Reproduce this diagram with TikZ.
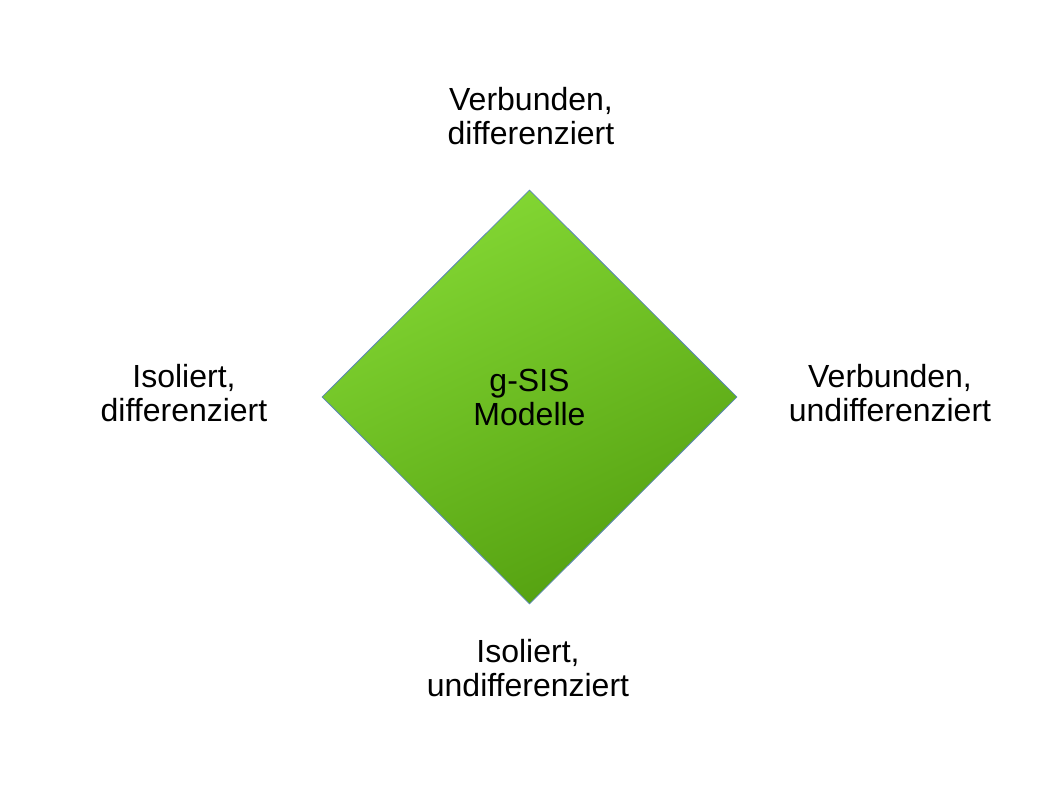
\documentclass[tikz,border=0pt]{standalone}
\usepackage{fontspec}
\setmainfont{Liberation Sans}
\usetikzlibrary{shapes.geometric}
\definecolor{glight}{HTML}{84D834}
\definecolor{gdark}{HTML}{54A010}
\definecolor{gborder}{HTML}{5B86B8}
\tikzset{
  lbl/.style={align=center, font=\fontsize{32}{34}\selectfont, inner sep=0pt},
  core/.style={diamond, aspect=1, minimum width=415pt, minimum height=414pt, inner sep=0pt,
    draw=gborder, line width=0.8pt, top color=glight, bottom color=gdark, shading angle=25,
    align=center, font=\fontsize{32}{34}\selectfont}
}
\begin{document}
\begin{tikzpicture}[x=1pt,y=-1pt]
\useasboundingbox (0,0) rectangle (1058,794);
\node[core] (c) at (529.5,397) {g-SIS\\Modelle};
\node[lbl] (t) at (531,116) {Verbunden,\\differenziert};
\node[lbl] (l) at (184,393) {Isoliert,\\differenziert};
\node[lbl] (r) at (890,393) {Verbunden,\\undifferenziert};
\node[lbl] (b) at (528,668) {Isoliert,\\undifferenziert};
\end{tikzpicture}
\end{document}
